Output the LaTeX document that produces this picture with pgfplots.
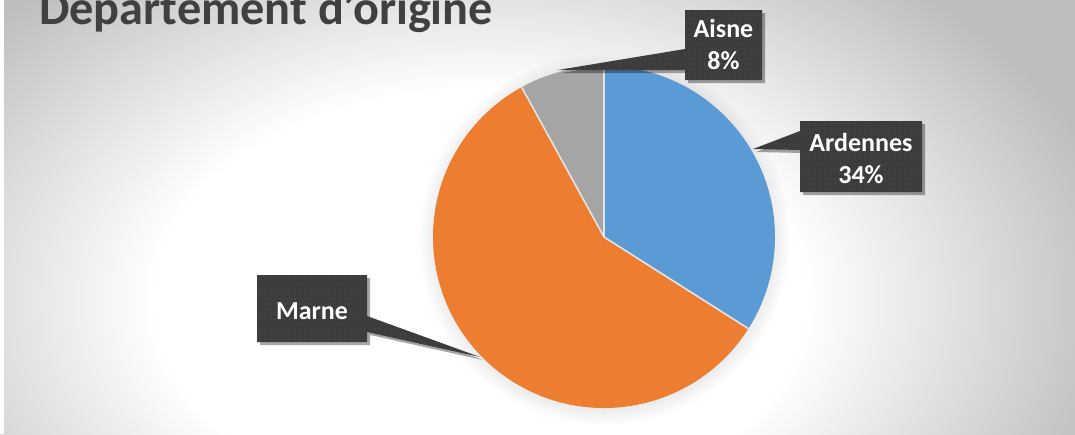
\documentclass[border=0pt]{standalone}
\usepackage{fontspec}
\setmainfont{Carlito}
\usepackage{pgfplots}
\usepackage{pgfplotstable}
\pgfplotsset{compat=1.18}
\usetikzlibrary{fadings,shadows,patterns.meta}
\definecolor{ardblue}{HTML}{5B9BD5}
\definecolor{marorange}{HTML}{ED7D31}
\definecolor{aisgray}{HTML}{A5A5A5}
\definecolor{bggray}{HTML}{BEBEBE}
\definecolor{boxdark}{HTML}{3C3C3C}
\definecolor{titlecol}{HTML}{404040}
\definecolor{sepcol}{HTML}{E4E4E4}
\pgfdeclareradialshading{bgshade}{\pgfpointorigin}{color(0bp)=(white); color(12.5bp)=(white); color(25bp)=(bggray); color(50bp)=(bggray)}

\pgfplotstableread{
label value
Ardennes 34
Marne 58
Aisne 8
}\piedata

\begin{document}
\begin{tikzpicture}
\pgfplotstablegetelem{0}{value}\of\piedata \let\vA\pgfplotsretval
\pgfplotstablegetelem{1}{value}\of\piedata \let\vB\pgfplotsretval
\pgfplotstablegetelem{2}{value}\of\piedata \let\vC\pgfplotsretval
\pgfmathsetmacro\aA{90-3.6*\vA}
\pgfmathsetmacro\aB{\aA-3.6*\vB}
\pgfmathsetmacro\aC{\aB-3.6*\vC}
\begin{axis}[width=1075pt,height=434pt,scale only axis,
  xmin=0,xmax=1075,ymin=0,ymax=434,y dir=reverse,hide axis,clip=true]
% background
\fill[bggray] (axis cs:0,0) rectangle (axis cs:1075,434);
\shade[shading=bgshade] (axis cs:480,300) ellipse [x radius=650pt, y radius=420pt];
\fill[white] (axis cs:0,0) rectangle (axis cs:4,434);
% soft shadow under pie
\fill[black,opacity=0.12,path fading=circle with fuzzy edge 15 percent] (axis cs:604,239) circle[radius=186pt];
% slices
\fill[ardblue] (axis cs:604,237) -- ++(90:171pt) arc[start angle=90,end angle=\aA,radius=171pt] -- cycle;
\fill[marorange] (axis cs:604,237) -- ++(\aA:171pt) arc[start angle=\aA,end angle=\aB,radius=171pt] -- cycle;
\fill[aisgray] (axis cs:604,237) -- ++(\aB:171pt) arc[start angle=\aB,end angle=\aC,radius=171pt] -- cycle;
\draw[sepcol,line width=1.6pt] (axis cs:604,237) -- ++(90:171pt);
\draw[sepcol,line width=1.6pt] (axis cs:604,237) -- ++(\aA:171pt);
\draw[sepcol,line width=1.6pt] (axis cs:604,237) -- ++(\aB:171pt);
% callouts
\tikzset{callout/.style={fill=boxdark,drop shadow={shadow xshift=3pt,shadow yshift=-3pt,opacity=0.35,fill=black}},
  dots/.style={pattern={Dots[distance=5pt,radius=0.7pt]},pattern color=white!14!boxdark},
  lab/.style={white,anchor=base,font=\bfseries\fontsize{26}{28}\selectfont}}
% Aisne
\fill[callout] (axis cs:685,10) -- (axis cs:762,10) -- (axis cs:762,80) -- (axis cs:685,80) -- (axis cs:685,70) -- (axis cs:558,70) -- (axis cs:685,49) -- cycle;
\fill[dots] (axis cs:685,10) -- (axis cs:762,10) -- (axis cs:762,80) -- (axis cs:685,80) -- (axis cs:685,70) -- (axis cs:558,70) -- (axis cs:685,49) -- cycle;
\node[lab] at (axis cs:723.5,37) {Aisne};
\node[lab] at (axis cs:723.5,69) {8\%};
% Ardennes
\fill[callout] (axis cs:800,121) -- (axis cs:922,121) -- (axis cs:922,192) -- (axis cs:800,192) -- (axis cs:800,150) -- (axis cs:753,149) -- (axis cs:800,131) -- cycle;
\fill[dots] (axis cs:800,121) -- (axis cs:922,121) -- (axis cs:922,192) -- (axis cs:800,192) -- (axis cs:800,150) -- (axis cs:753,149) -- (axis cs:800,131) -- cycle;
\node[lab] at (axis cs:861,151) {Ardennes};
\node[lab] at (axis cs:861,183) {34\%};
% Marne
\fill[callout] (axis cs:257,275) -- (axis cs:367,275) -- (axis cs:367,316) -- (axis cs:480,357) -- (axis cs:367,332) -- (axis cs:367,342) -- (axis cs:257,342) -- cycle;
\fill[dots] (axis cs:257,275) -- (axis cs:367,275) -- (axis cs:367,316) -- (axis cs:480,357) -- (axis cs:367,332) -- (axis cs:367,342) -- (axis cs:257,342) -- cycle;
\node[lab] at (axis cs:312,319) {Marne};
% title
\node[anchor=base west,titlecol,inner sep=0pt,font=\bfseries\fontsize{48.3}{51}\selectfont] at (axis cs:39,24) {Département d\char"0027 origine};
\end{axis}
\end{tikzpicture}
\end{document}
